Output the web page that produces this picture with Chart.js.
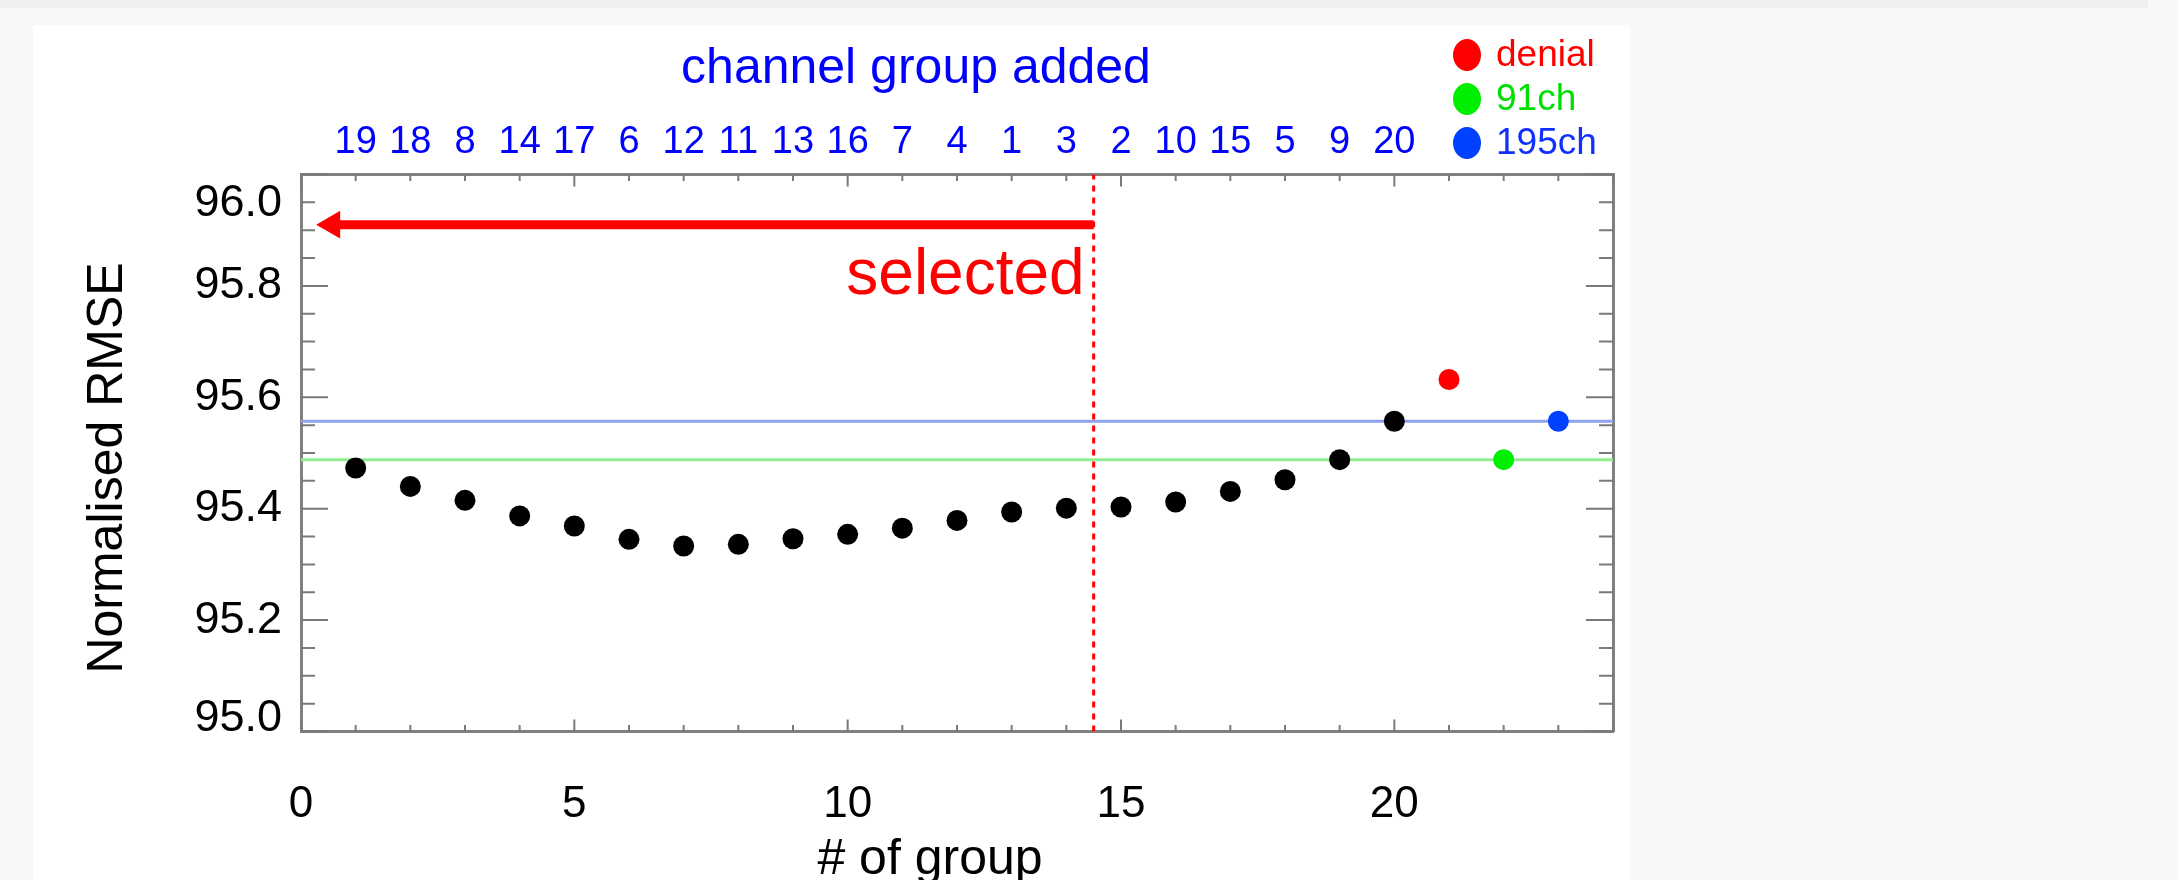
<!DOCTYPE html>
<html>
<head>
<meta charset="utf-8">
<script src="https://cdn.jsdelivr.net/npm/chart.js@4.4.1/dist/chart.umd.min.js"></script>
<style>
  html, body { margin: 0; padding: 0; width: 2178px; height: 880px; overflow: hidden; background: #f8f8f8; }
  #strip { position: absolute; left: 0; top: 0; width: 2148px; height: 8px; background: #efefef; }
  #panel { position: absolute; left: 33px; top: 25px; width: 1597px; height: 855px; background: #fff; }
</style>
</head>
<body>
<div id="strip"></div>
<div id="panel"><canvas id="myChart"></canvas></div>
<script>
// values
const groupCount = [1, 2, 3, 4, 5, 6, 7, 8, 9, 10, 11, 12, 13, 14, 15, 16, 17, 18, 19, 20];
const rmseValues = [95.473, 95.440, 95.415, 95.387, 95.369, 95.345, 95.333, 95.336, 95.346, 95.354,
                    95.365, 95.379, 95.394, 95.401, 95.403, 95.412, 95.431, 95.452, 95.488, 95.557];
// channel group added at each step (top axis)
const groupAdded = ['19', '18', '8', '14', '17', '6', '12', '11', '13', '16',
                    '7', '4', '1', '3', '2', '10', '15', '5', '9', '20'];

const refNames = ['denial', '91ch', '195ch'];
const refX = [21, 22, 23];
const refRmse = [95.632, 95.488, 95.557];
const refColors = ['#ff0000', '#00ee00', '#0040ff'];
const refTextColors = ['#ff0000', '#00e000', '#1030ff'];

const selectedCut = 14.5;   // dotted line between 14 and 15 groups
const arrowY = 95.91;
const arrowTip = 0.57;

const FONT = '"Liberation Sans", Arial, Helvetica, sans-serif';
const frameColor = '#808080';
Chart.defaults.font.family = FONT;

const pts = (xs, ys) => xs.map((x, i) => ({ x: x, y: ys[i] }));

// keep the plot frame where it is, labels may hang over the edges
const fixBox = (w, h) => s => {
  if (w !== null) s.width = w;
  if (h !== null) s.height = h;
  s.paddingLeft = 0;
  s.paddingRight = 0;
  s.paddingTop = 0;
  s.paddingBottom = 0;
};

// IDL style ticks pointing into the plot, drawn from the scales' own ticks
const inwardTicks = {
  id: 'inwardTicks',
  beforeDatasetsDraw(chart) {
    const { ctx, chartArea: a, scales } = chart;
    ctx.save();
    ctx.strokeStyle = '#7a7a7a';
    ctx.lineWidth = 2;
    ctx.beginPath();
    scales.x.ticks.forEach(t => {
      const px = scales.x.getPixelForValue(t.value);
      const len = t.value % 5 === 0 ? 12 : 6.5;
      ctx.moveTo(px, a.bottom); ctx.lineTo(px, a.bottom - len);
      ctx.moveTo(px, a.top); ctx.lineTo(px, a.top + len);
    });
    scales.y.ticks.forEach(t => {
      const py = scales.y.getPixelForValue(t.value);
      const len = Math.round(t.value * 20) % 4 === 0 ? 27 : 14;
      ctx.moveTo(a.left, py); ctx.lineTo(a.left + len, py);
      ctx.moveTo(a.right, py); ctx.lineTo(a.right - len, py);
    });
    ctx.stroke();
    ctx.restore();
  }
};

const annotations = {
  id: 'annotations',
  afterDraw(chart) {
    const { ctx, chartArea: a, scales } = chart;
    ctx.save();

    ctx.fillStyle = '#0000ff';
    ctx.font = '50px ' + FONT;
    ctx.textAlign = 'center';
    ctx.textBaseline = 'alphabetic';
    ctx.fillText('channel group added', 883, 58);

    // legend
    ctx.font = '37px ' + FONT;
    ctx.textAlign = 'left';
    ctx.textBaseline = 'middle';
    refNames.forEach((name, i) => {
      const cy = 30 + i * 44;
      ctx.fillStyle = refColors[i];
      ctx.beginPath();
      ctx.ellipse(1434, cy, 14, 16, 0, 0, Math.PI * 2);
      ctx.fill();
      ctx.fillStyle = refTextColors[i];
      ctx.fillText(name, 1463, cy + 1);
    });

    // "selected" next to the cut line
    ctx.fillStyle = '#ff0000';
    ctx.font = '64px ' + FONT;
    ctx.textAlign = 'right';
    ctx.textBaseline = 'alphabetic';
    ctx.fillText('selected', scales.x.getPixelForValue(selectedCut) - 9, scales.y.getPixelForValue(95.786));

    // axis titles
    ctx.fillStyle = '#000';
    ctx.font = '50px ' + FONT;
    ctx.textAlign = 'center';
    ctx.fillText('# of group', 897, 849);

    ctx.translate(89, (a.top + a.bottom) / 2 + 15);
    ctx.rotate(-Math.PI / 2);
    ctx.fillText('Normalised RMSE', 0, 0);
    ctx.restore();
  }
};

const ctx = document.getElementById('myChart').getContext('2d');
const chart = new Chart(ctx, {
  type: 'scatter',
  data: {
    datasets: [
      {
        label: 'RMSE',
        data: pts(groupCount, rmseValues),
        backgroundColor: '#000',
        pointRadius: 10.5,
        pointBorderWidth: 0,
        order: 0,
      },
      ...refNames.map((name, i) => ({
        label: name,
        data: [{ x: refX[i], y: refRmse[i] }],
        backgroundColor: refColors[i],
        pointRadius: 10.5,
        pointBorderWidth: 0,
        order: 0,
      })),
      {
        label: '91ch level',
        data: [{ x: 0, y: refRmse[1] }, { x: 24, y: refRmse[1] }],
        showLine: true,
        borderColor: '#90ee90',
        borderWidth: 3,
        pointRadius: 0,
        order: 5,
      },
      {
        label: '195ch level',
        data: [{ x: 0, y: refRmse[2] }, { x: 24, y: refRmse[2] }],
        showLine: true,
        borderColor: '#8fa2f0',
        borderWidth: 3,
        pointRadius: 0,
        order: 5,
      },
      {
        label: 'cut',
        data: [{ x: selectedCut, y: 95 }, { x: selectedCut, y: 96 }],
        showLine: true,
        borderColor: '#ff0000',
        borderWidth: 3,
        borderDash: [6, 6],
        pointRadius: 0,
        order: 4,
      },
      {
        label: 'arrow',
        data: [{ x: selectedCut, y: arrowY }, { x: arrowTip, y: arrowY }],
        showLine: true,
        borderColor: '#ff0000',
        borderWidth: 9,
        pointRadius: [0, 16],
        pointStyle: 'triangle',
        pointRotation: -90,
        pointBackgroundColor: '#ff0000',
        pointBorderWidth: 0,
        order: 3,
      },
    ]
  },
  options: {
    responsive: true,
    maintainAspectRatio: false,
    animation: false,
    layout: { padding: 0 },
    plugins: {
      legend: { display: false },
      tooltip: { enabled: false },
    },
    scales: {
      x: {
        type: 'linear',
        position: 'bottom',
        min: 0,
        max: 24,
        afterFit: fixBox(null, 148.5),
        grid: { display: false },
        border: { color: frameColor, width: 3 },
        ticks: {
          stepSize: 1,
          autoSkip: false,
          maxRotation: 0,
          padding: 39,
          color: '#000',
          font: { size: 44 },
          callback: v => v % 5 === 0 ? String(v) : '',
        },
      },
      x2: {
        type: 'linear',
        axis: 'x',
        position: 'top',
        min: 0,
        max: 24,
        afterFit: fixBox(null, 149.5),
        grid: { display: false },
        border: { color: frameColor, width: 3 },
        ticks: {
          stepSize: 1,
          autoSkip: false,
          maxRotation: 0,
          padding: 1,
          color: '#0000ff',
          font: { size: 38 },
          callback: v => groupAdded[v - 1] || '',
        },
      },
      y: {
        type: 'linear',
        position: 'left',
        min: 95,
        max: 96,
        afterFit: fixBox(268, null),
        grid: { display: false },
        border: { color: frameColor, width: 3 },
        ticks: {
          stepSize: 0.05,
          autoSkip: false,
          padding: 11,
          color: '#000',
          // end labels sit a bit inside the frame, like the original
          font: c => {
            const k = c.tick ? Math.round(c.tick.value * 20) : 0;
            let lh = 1.2;
            if (k === 1920) lh = 1.3;
            if (k === 1900) lh = 0.56;
            return { size: 45, lineHeight: lh };
          },
          callback: v => {
            const k = Math.round(v * 20);
            if (k % 4 !== 0) return '';
            const s = (k / 20).toFixed(1);
            if (k === 1920) return ['', s];
            if (k === 1900) return [s, ''];
            return s;
          },
        },
      },
      y2: {
        type: 'linear',
        axis: 'y',
        position: 'right',
        min: 95,
        max: 96,
        afterFit: fixBox(17, null),
        grid: { display: false },
        border: { color: frameColor, width: 3 },
        ticks: { display: false },
      },
    }
  },
  plugins: [inwardTicks, annotations]
});
</script>
</body>
</html>
